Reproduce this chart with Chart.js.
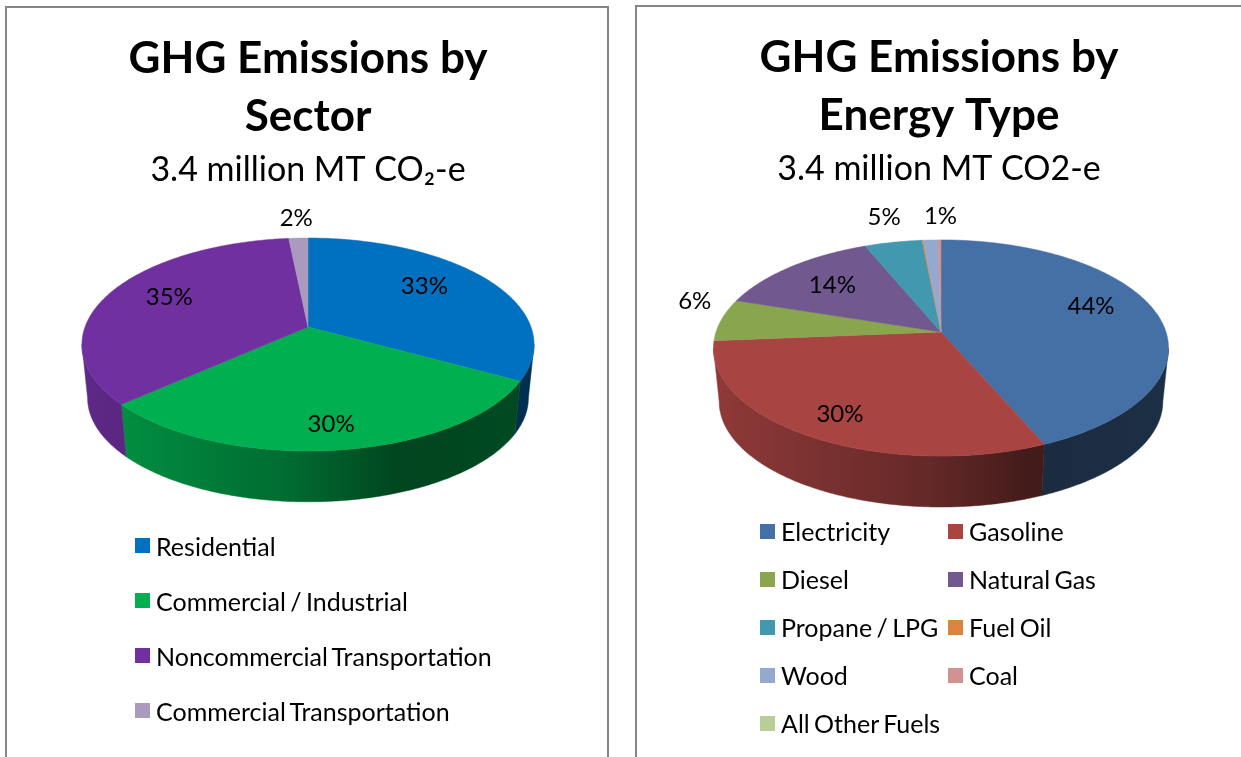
<!DOCTYPE html>
<html>
<head>
<meta charset="utf-8">
<title>GHG Emissions</title>
<script src="https://cdn.jsdelivr.net/npm/chart.js@4/dist/chart.umd.min.js"></script>
<style>
    html, body { margin: 0; padding: 0; background: #fff; overflow: hidden; }
    body { width: 1241px; height: 757px; position: relative; font-family: Lato, sans-serif; color: #000; }
    .panel { position: absolute; border: 2px solid #868686; border-bottom: none; box-sizing: border-box; }
    #panelSector { left: 5px; top: 6px; width: 604px; height: 760px; }
    #panelEnergy { left: 635px; top: 5px; width: 620px; height: 760px; }
    canvas { position: absolute; }
    .legend { position: absolute; display: grid; font-size: 25px; word-spacing: -2px; }
    .legend div { display: flex; align-items: center; white-space: nowrap; }
    .legend i { display: inline-block; width: 15px; height: 15px; margin-right: 6px; flex: none; }
    #legendSector { left: 135px; top: 518px; grid-template-columns: 400px; grid-auto-rows: 55px; }
    #legendEnergy { left: 760px; top: 507px; grid-template-columns: 188px 188px; grid-auto-rows: 48px; }
</style>
</head>
<body>
<div class="panel" id="panelSector"></div>
<div class="panel" id="panelEnergy"></div>
<canvas id="sectorChart" style="left:8px;top:8px"></canvas>
<canvas id="energyChart" style="left:637px;top:7px"></canvas>
<div class="legend" id="legendSector"></div>
<div class="legend" id="legendEnergy"></div>

<script>
// values, percent of total
const sectorLabels = ["Residential", "Commercial / Industrial", "Noncommercial Transportation", "Commercial Transportation"];
const sectorValues = [33, 30.4, 35, 1.6];
const sectorColors = ["#0070c0", "#00b050", "#7030a0", "#a99abe"];

const energyLabels = ["Electricity", "Gasoline", "Diesel", "Natural Gas", "Propane / LPG", "Fuel Oil", "Wood", "Coal", "All Other Fuels"];
const energyValues = [43.5, 30.2, 6.3, 13.75, 4.7, 0.1, 1.2, 0.25, 0];
const energyColors = ["#4470a5", "#a84442", "#89a54e", "#71588f", "#4198af", "#db843d", "#93a9cf", "#d19392", "#b9cd96"];

// where the % labels sit: fraction of the radius, then a small pixel nudge
const sectorLabelRadius = [0.65, 0.8, 0.7, 1.27];
const sectorLabelNudge = [[-2, -8], [0, 3], [1, -5], [0, 0]];
const energyLabelRadius = [0.7, 0.8, 1.1, 0.69, 1.3, 0, 1.35, 0, 0];
const energyLabelNudge = [[-1, -11], [2, 2], [-5, -17], [-2, 0], [3, -2], [0, 0], [13, 3], [0, 0], [0, 0]];

// darkening of the side wall from left to right of the pie
const wallShade = [[0, 0.85], [0.1, 0.8], [0.47, 0.6], [0.7, 0.39], [1, 0.42]];

function shadeColor(hex, f) {
    const n = parseInt(hex.slice(1), 16);
    const r = Math.round((n >> 16) * f);
    const g = Math.round(((n >> 8) & 255) * f);
    const b = Math.round((n & 255) * f);
    return `rgb(${r},${g},${b})`;
}

// flat pie -> tilted pie with perspective, near edge comes out bigger
function project(angle, frac, el, o, lower) {
    const u = Math.cos(angle) * frac;
    const v = Math.sin(angle) * frac;
    const w = 1 - o.persp * v;
    let x = el.outerRadius * u / w;
    let y = el.outerRadius * o.flat * v / w;
    if (lower) {
        x *= o.lowerScale;
        y = y * o.lowerScale + o.depth;
    }
    return { x: el.x + o.dx + x, y: el.y + y };
}

function tracePoints(ctx, points) {
    ctx.beginPath();
    points.forEach((p, i) => i ? ctx.lineTo(p.x, p.y) : ctx.moveTo(p.x, p.y));
    ctx.closePath();
}

function rimPoints(el, o, start, end, lower) {
    const steps = Math.max(2, Math.ceil((end - start) / 0.01));
    const points = [];
    for (let i = 0; i <= steps; i++) {
        points.push(project(start + (end - start) * i / steps, 1, el, o, lower));
    }
    return points;
}

const pie3d = {
    id: 'pie3d',
    beforeDatasetsDraw(chart, args, o) {
        const ctx = chart.ctx;
        const arcs = chart.getDatasetMeta(0).data;
        const values = chart.data.datasets[0].data;
        const total = values.reduce((a, b) => a + b, 0);
        const colors = chart.data.datasets[0].backgroundColor;
        const edge = Math.asin(o.persp);
        const left = arcs[0].x + o.dx - arcs[0].outerRadius * 1.02;
        const right = arcs[0].x + o.dx + arcs[0].outerRadius * 1.02;

        ctx.save();
        // side wall, only the part that faces us
        arcs.forEach((el, i) => {
            const start = Math.max(el.startAngle, edge);
            const end = Math.min(el.endAngle, Math.PI - edge);
            if (end <= start) return;
            const upper = rimPoints(el, o, start, end, false);
            const lower = rimPoints(el, o, start, end, true).reverse();
            const grad = ctx.createLinearGradient(left, 0, right, 0);
            wallShade.forEach(s => grad.addColorStop(s[0], shadeColor(colors[i], s[1])));
            tracePoints(ctx, upper.concat(lower));
            ctx.fillStyle = grad;
            ctx.strokeStyle = grad;
            ctx.lineWidth = 0.5;
            ctx.fill();
            ctx.stroke();
        });
        // top face
        arcs.forEach((el, i) => {
            if (el.endAngle <= el.startAngle) return;
            const points = rimPoints(el, o, el.startAngle, el.endAngle, false);
            points.unshift(project(0, 0, el, o, false));
            tracePoints(ctx, points);
            ctx.fillStyle = colors[i];
            ctx.strokeStyle = colors[i];
            ctx.lineWidth = 0.5;
            ctx.fill();
            ctx.stroke();
        });
        // percent labels, tiny slices get none
        ctx.fillStyle = '#000';
        ctx.font = '24px Lato';
        ctx.textAlign = 'center';
        ctx.textBaseline = 'middle';
        arcs.forEach((el, i) => {
            const pct = values[i] / total * 100;
            if (pct < 0.5) return;
            const mid = (el.startAngle + el.endAngle) / 2;
            const p = project(mid, o.labelRadius[i], el, o, false);
            ctx.fillText(Math.round(pct) + '%', p.x + o.labelNudge[i][0], p.y + o.labelNudge[i][1]);
        });
        ctx.restore();
        return false; // walls and faces are done, skip the flat arcs
    }
};

function buildLegend(id, labels, colors) {
    const box = document.getElementById(id);
    labels.forEach((label, i) => {
        const item = document.createElement('div');
        item.innerHTML = `<i style="background:${colors[i]}"></i>${label}`;
        box.appendChild(item);
    });
}

function makePie(canvasId, width, height, titleLines, subtitle, labels, values, colors, pieOptions) {
    const canvas = document.getElementById(canvasId);
    canvas.width = width;
    canvas.height = height;
    return new Chart(canvas, {
        type: 'pie',
        data: {
            labels: labels,
            datasets: [{ data: values, backgroundColor: colors, borderWidth: 0 }]
        },
        options: {
            responsive: false,
            animation: false,
            events: [],
            radius: pieOptions.radius,
            layout: { padding: { bottom: pieOptions.bottomPad } },
            plugins: {
                legend: { display: false },
                tooltip: { enabled: false },
                title: {
                    display: true,
                    text: titleLines,
                    color: '#000',
                    font: { family: 'Lato', size: 44, weight: 'bold', lineHeight: 58 / 44 },
                    padding: { top: 22, bottom: 0 }
                },
                subtitle: {
                    display: true,
                    text: subtitle,
                    color: '#000',
                    font: { family: 'Lato', size: 34, weight: 'normal', lineHeight: 40 / 34 },
                    padding: { top: 4, bottom: 0 }
                },
                pie3d: pieOptions
            }
        },
        plugins: [pie3d]
    });
}

makePie('sectorChart', 600, 749, ['GHG Emissions by', 'Sector'], '3.4 million MT CO₂-e',
    sectorLabels, sectorValues, sectorColors, {
        radius: 223, bottomPad: 293, dx: 0, persp: 0.164, flat: 0.4646,
        depth: 54, lowerScale: 0.975,
        labelRadius: sectorLabelRadius, labelNudge: sectorLabelNudge
    });

makePie('energyChart', 604, 750, ['GHG Emissions by', 'Energy Type'], '3.4 million MT CO2-e',
    energyLabels, energyValues, energyColors, {
        radius: 225, bottomPad: 282, dx: 2, persp: 0.148, flat: 0.47,
        depth: 54, lowerScale: 0.975,
        labelRadius: energyLabelRadius, labelNudge: energyLabelNudge
    });

buildLegend('legendSector', sectorLabels, sectorColors);
buildLegend('legendEnergy', energyLabels, energyColors);
</script>
</body>
</html>
